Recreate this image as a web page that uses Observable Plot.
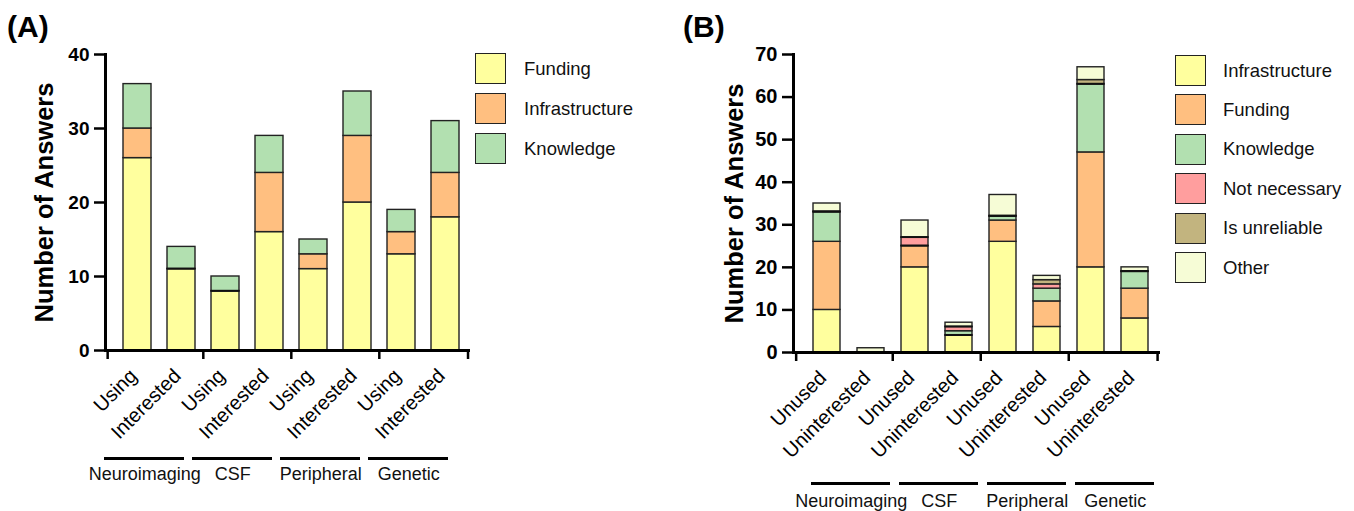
<!DOCTYPE html>
<html><head><meta charset="utf-8">
<script src="https://cdn.jsdelivr.net/npm/d3@7"></script>
<script src="https://cdn.jsdelivr.net/npm/@observablehq/plot@0.6"></script>
<style>
body{margin:0;background:#fff;font-family:"Liberation Sans",Arial,sans-serif;}
#wrap{position:relative;width:1354px;height:511px;overflow:hidden;background:#fff}
.panel{position:absolute;top:0}
.tag{position:absolute;font-weight:bold;font-size:30px;line-height:1}
.sw{position:absolute;box-sizing:border-box;width:31px;height:31px;border:1.6px solid #222;}
.lab{position:absolute;white-space:nowrap;height:31px;display:flex;align-items:center;font-size:18.5px;color:#111}
svg [aria-label="y-axis tick label"]{font-weight:bold}
</style></head><body>
<div id="wrap">
  <div id="A" class="panel" style="left:0"></div>
  <div id="B" class="panel" style="left:677px"></div>
  <div class="tag" style="left:7px;top:12px">(A)</div>
  <div class="tag" style="left:683px;top:12px">(B)</div>
  <div id="legA"></div>
  <div id="legB"></div>
</div>
<script>
// ---------- Panel A data ----------
const groupsA = ["Neuroimaging", "CSF", "Peripheral", "Genetic"];
const typesA = ["Using", "Interested"];
const seriesA = ["Funding", "Infrastructure", "Knowledge"];
const fundingA = [26, 11, 8, 16, 11, 20, 13, 18];
const infraA   = [4, 0, 0, 8, 2, 9, 3, 6];
const knowA    = [6, 3, 2, 5, 2, 6, 3, 7];
const colorsA  = ["#ffff9e", "#ffbf80", "#b2e0b0"];
const yTicksA  = [0, 10, 20, 30, 40];

// ---------- Panel B data ----------
const groupsB = ["Neuroimaging", "CSF", "Peripheral", "Genetic"];
const typesB = ["Unused", "Uninterested"];
const seriesB = ["Infrastructure", "Funding", "Knowledge", "Not necessary", "Is unreliable", "Other"];
const infraB  = [10, 0, 20, 4, 26, 6, 20, 8];
const fundB   = [16, 0, 5, 0, 5, 6, 27, 7];
const knowB   = [7, 0, 0, 1, 1, 3, 16, 4];
const notNecB = [0, 0, 2, 1, 0, 1, 0, 0];
const unrelB  = [0, 0, 0, 0, 0, 1, 1, 0];
const otherB  = [2, 1, 4, 1, 5, 1, 3, 1];
const colorsB = ["#ffff9e", "#ffbf80", "#b2e0b0", "#ff9e9e", "#c2b47f", "#f6fcd6"];
const yTicksB = [0, 10, 20, 30, 40, 50, 60, 70];

function buildTable(groups, types, series, values) {
  const cats = [];
  groups.forEach(g => types.forEach(t => cats.push(g + "|" + t)));
  const rows = [];
  cats.forEach((c, i) => series.forEach((s, j) => rows.push({cat: c, series: s, value: values[j][i]})));
  return {cats, rows};
}

function panel(o) {
  const {cats, rows} = buildTable(o.groups, o.types, o.series, o.values);
  const W = 677, H = 511;
  const band = d3.scaleBand().domain(cats).range([o.ml, W - o.mr])
    .paddingInner(o.pi).paddingOuter(o.po).align(o.al);
  const step = band.step(), bw = band.bandwidth();
  const c0 = band(cats[0]) + bw / 2, cN = band(cats[cats.length - 1]) + bw / 2;
  const frameH = H - o.mt - o.mb;
  const inner = cats.filter((d, i) => i > 0 && i % 2 === 0);
  const tickOpts = {stroke: "#000", strokeWidth: 2.5, insetTop: frameH, insetBottom: -9};
  return Plot.plot({
    width: W, height: H,
    marginLeft: o.ml, marginRight: o.mr, marginTop: o.mt, marginBottom: o.mb,
    style: {fontFamily: '"Liberation Sans", Arial, sans-serif', color: "#000", background: "transparent", overflow: "visible"},
    x: {domain: cats, paddingInner: o.pi, paddingOuter: o.po, align: o.al, label: null},
    y: {domain: [0, o.yMax], label: null},
    color: {domain: o.series, range: o.colors},
    marks: [
      Plot.barY(rows, {x: "cat", y: "value", fill: "series", order: o.series, stroke: "#222", strokeWidth: 1.4}),
      // zero-height segments show as dark separator lines, as in the original software
      Plot.barY(rows, {x: "cat", y: "value", z: "series", order: o.series, fill: "none", stroke: "#111",
        strokeWidth: d => d.value === 0 ? 1 : 0, insetTop: -0.5, insetBottom: -0.5}),
      Plot.frame({anchor: "left", stroke: "#000", strokeWidth: 3}),
      Plot.frame({anchor: "bottom", stroke: "#000", strokeWidth: 3}),
      Plot.axisY({ticks: o.yTicks, tickSize: 11, tickPadding: 5, fontSize: o.yfs, fontWeight: "bold", strokeWidth: 2.5, label: null}),
      Plot.axisX({tickSize: 0, tickPadding: o.tp, tickRotate: -45, fontSize: 20, dx: -4, tickFormat: d => d.split("|")[1], label: null}),
      Plot.ruleX(inner, {x: d => d, dx: -step / 2, ...tickOpts}),
      Plot.ruleX([cats[0]], {x: d => d, dx: o.ml - c0, ...tickOpts}),
      Plot.ruleX([cats[cats.length - 1]], {x: d => d, dx: (W - o.mr) - cN, ...tickOpts}),
      Plot.ruleY(o.groups, {x1: (d, i) => cats[2 * i], x2: (d, i) => cats[2 * i + 1], y: () => 0,
        dy: o.lineDy, dx: o.gdx, insetLeft: -4, insetRight: -4, stroke: "#000", strokeWidth: 3}),
      Plot.text(o.groups, {x: (d, i) => cats[2 * i], text: d => d, frameAnchor: "bottom",
        dy: o.textDy, dx: step / 2 + o.gdx, fontSize: 18, fill: "#111"}),
      Plot.text(["Number of Answers"], {frameAnchor: "left", rotate: -90, dx: o.ldx, textAnchor: "middle",
        fontSize: 25.5, fontWeight: "bold", fill: "#000"})
    ]
  });
}

document.getElementById("A").append(panel({
  groups: groupsA, types: typesA, series: seriesA, values: [fundingA, infraA, knowA],
  colors: colorsA, yMax: 40, yTicks: yTicksA, yfs: 19,
  ml: 105, mr: 209, mt: 54, mb: 161, pi: 0.37, po: 0.275, al: 0.65,
  tp: 22, gdx: -15, lineDy: 108, textDy: 129, ldx: -61
}));
document.getElementById("B").append(panel({
  groups: groupsB, types: typesB, series: seriesB, values: [infraB, fundB, knowB, notNecB, unrelB, otherB],
  colors: colorsB, yMax: 70, yTicks: yTicksB, yfs: 20,
  ml: 116, mr: 196, mt: 54, mb: 159, pi: 0.38, po: 0.29, al: 0.66,
  tp: 22, gdx: 2, lineDy: 131, textDy: 154, ldx: -59
}));

function legend(id, series, colors, left, top, gap, labLeft) {
  const el = document.getElementById(id);
  series.forEach((s, i) => {
    const sw = document.createElement("div");
    sw.className = "sw";
    sw.style.left = left + "px"; sw.style.top = (top + i * gap) + "px"; sw.style.background = colors[i];
    const lb = document.createElement("div");
    lb.className = "lab";
    lb.style.left = labLeft + "px"; lb.style.top = (top + i * gap) + "px";
    lb.textContent = s;
    el.append(sw, lb);
  });
}
legend("legA", seriesA, colorsA, 475, 53, 40, 524);
legend("legB", seriesB, colorsB, 1175, 55, 39.4, 1223);
</script>
</body></html>
